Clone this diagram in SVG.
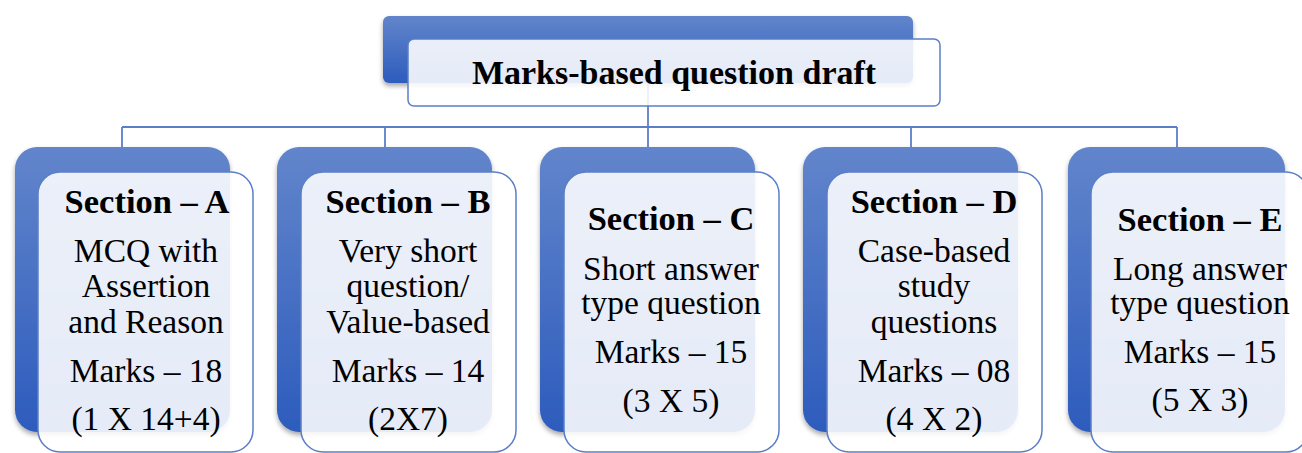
<svg xmlns="http://www.w3.org/2000/svg" width="1302" height="453" viewBox="0 0 1302 453">
<defs>
<linearGradient id="bg" x1="0" y1="0" x2="0" y2="1">
<stop offset="0" stop-color="#6285cb"/>
<stop offset="1" stop-color="#2d5cbd"/>
</linearGradient>
<filter id="sh" x="-10%" y="-10%" width="120%" height="120%">
<feDropShadow dx="0" dy="3" stdDeviation="2.5" flood-color="#000" flood-opacity="0.35"/>
</filter>
</defs>
<style>
.back{fill:url(#bg);filter:url(#sh)}
.front{fill:#ffffff;fill-opacity:0.88;stroke:#5b7fc7;stroke-width:1.5}
.conn{stroke:#5b7fc7;stroke-width:1.8;fill:none}
text{font-family:"Liberation Serif","Times New Roman",serif;font-size:33.5px;fill:#000;text-anchor:middle}
.b{font-weight:bold;font-size:34.5px}
</style>
<rect width="1302" height="453" fill="#fff"/>
<g id="connectors">
<path class="conn" d="M648 83V127M122 127H1177M122 127V147M385 127V147M648 127V147M911 127V147M1177 127V147"/>
</g>
<g id="title">
<rect class="back" x="383" y="16" width="530" height="67" rx="6"/>
<rect class="front" x="408" y="39" width="532" height="67" rx="6"/>
<text class="b" x="674" y="84" style="font-size:34px">Marks-based question draft</text>
</g>
<g id="sectionA">
<rect class="back" x="15" y="147" width="215" height="285" rx="22"/>
<rect class="front" x="38" y="172" width="215" height="280" rx="22"/>
<text class="b" x="147" y="213">Section – A</text>
<text x="146" y="262">MCQ with</text>
<text x="146" y="297">Assertion</text>
<text x="146" y="333">and Reason</text>
<text x="146" y="382">Marks – 18</text>
<text x="146" y="430">(1 X 14+4)</text>
</g>
<g id="sectionB">
<rect class="back" x="277" y="147" width="215" height="285" rx="22"/>
<rect class="front" x="301" y="172" width="215" height="280" rx="22"/>
<text class="b" x="408" y="213">Section – B</text>
<text x="408" y="262">Very short</text>
<text x="408" y="297">question/</text>
<text x="408" y="333">Value-based</text>
<text x="408" y="382">Marks – 14</text>
<text x="408" y="430">(2X7)</text>
</g>
<g id="sectionC">
<rect class="back" x="540" y="147" width="215" height="285" rx="22"/>
<rect class="front" x="564" y="172" width="215" height="280" rx="22"/>
<text class="b" x="671" y="230">Section – C</text>
<text x="671" y="280">Short answer</text>
<text x="671" y="314">type question</text>
<text x="671" y="363">Marks – 15</text>
<text x="671" y="412">(3 X 5)</text>
</g>
<g id="sectionD">
<rect class="back" x="803" y="147" width="215" height="285" rx="22"/>
<rect class="front" x="827" y="172" width="215" height="280" rx="22"/>
<text class="b" x="934" y="213">Section – D</text>
<text x="934" y="262">Case-based</text>
<text x="934" y="297">study</text>
<text x="934" y="333">questions</text>
<text x="934" y="382">Marks – 08</text>
<text x="934" y="430">(4 X 2)</text>
</g>
<g id="sectionE">
<rect class="back" x="1068" y="147" width="217" height="285" rx="22"/>
<rect class="front" x="1091" y="172" width="217" height="280" rx="22"/>
<text class="b" x="1200" y="231">Section – E</text>
<text x="1200" y="280">Long answer</text>
<text x="1200" y="314">type question</text>
<text x="1200" y="363">Marks – 15</text>
<text x="1200" y="411">(5 X 3)</text>
</g>
</svg>
